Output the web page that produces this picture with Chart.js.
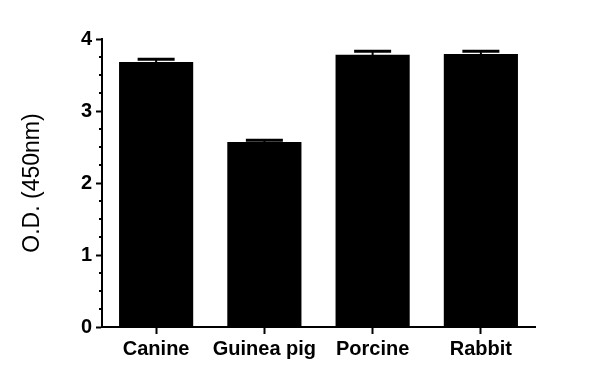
<!DOCTYPE html>
<html>
<head>
<meta charset="utf-8">
<script src="https://cdn.jsdelivr.net/npm/chart.js@4.4.1/dist/chart.umd.min.js"></script>
<style>
  html, body { margin: 0; padding: 0; background: #fff; }
  #wrap { width: 600px; height: 386px; }
</style>
</head>
<body>
<div id="wrap"><canvas id="odChart" width="600" height="386"></canvas></div>
<script>
// data
const species = ['Canine', 'Guinea pig', 'Porcine', 'Rabbit'];
const odValues = [3.68, 2.57, 3.78, 3.79];
const odErrors = [0.04, 0.025, 0.05, 0.04];
const yTicks = [0, 1, 2, 3, 4];

// error bars + minor y ticks, drawn through the scales
const extrasPlugin = {
    id: 'extras',
    afterDatasetsDraw(chart) {
        const ctx = chart.ctx;
        const yScale = chart.scales.y;
        const meta = chart.getDatasetMeta(0);
        ctx.save();
        ctx.strokeStyle = '#000';
        meta.data.forEach((bar, i) => {
            const hi = yScale.getPixelForValue(odValues[i] + odErrors[i]);
            const lo = yScale.getPixelForValue(odValues[i] - odErrors[i]);
            ctx.lineWidth = 2;
            ctx.beginPath();
            ctx.moveTo(bar.x, lo);
            ctx.lineTo(bar.x, hi);
            ctx.stroke();
            ctx.lineWidth = 3;
            ctx.beginPath();
            ctx.moveTo(bar.x - 18.5, hi);
            ctx.lineTo(bar.x + 18.5, hi);
            ctx.stroke();
        });
        // minor ticks every 0.25
        ctx.lineWidth = 2;
        const xLeft = yScale.right;
        for (let v = 0.25; v < 4; v += 0.25) {
            if (Number.isInteger(v)) continue;
            const py = Math.round(yScale.getPixelForValue(v));
            ctx.beginPath();
            ctx.moveTo(xLeft - 3, py);
            ctx.lineTo(xLeft, py);
            ctx.stroke();
        }
        ctx.restore();
    }
};

Chart.defaults.font.family = "'Liberation Sans', Arial, sans-serif";
Chart.defaults.color = '#000';

new Chart(document.getElementById('odChart'), {
    type: 'bar',
    data: {
        labels: species,
        datasets: [{
            data: odValues,
            backgroundColor: '#000',
            borderWidth: 0,
            barPercentage: 0.685,
            categoryPercentage: 1
        }]
    },
    options: {
        responsive: false,
        animation: false,
        devicePixelRatio: 1,
        layout: { padding: { left: 15, right: 65, top: 39, bottom: 19 } },
        plugins: { legend: { display: false }, tooltip: { enabled: false } },
        scales: {
            x: {
                grid: { display: true, drawOnChartArea: false, offset: false, tickLength: 7, tickWidth: 2, tickColor: '#000' },
                border: { display: true, color: '#000', width: 2 },
                ticks: { font: { size: 20, weight: 'bold' }, color: '#000', padding: 3, maxRotation: 0 },
                afterFit(scale) { scale.height = 40; }
            },
            y: {
                min: 0,
                max: 4,
                afterBuildTicks(scale) { scale.ticks = yTicks.map(v => ({ value: v })); },
                grid: { display: true, drawOnChartArea: false, tickLength: 6, tickWidth: 2, tickColor: '#000' },
                border: { display: true, color: '#000', width: 2 },
                ticks: { font: { size: 20, weight: 'bold' }, color: '#000', padding: 4 },
                title: { display: true, text: 'O.D. (450nm)', font: { size: 23 }, color: '#000', padding: { top: 4, bottom: 0 } },
                afterFit(scale) { scale.width = 87; }
            }
        }
    },
    plugins: [extrasPlugin]
});
</script>
</body>
</html>
